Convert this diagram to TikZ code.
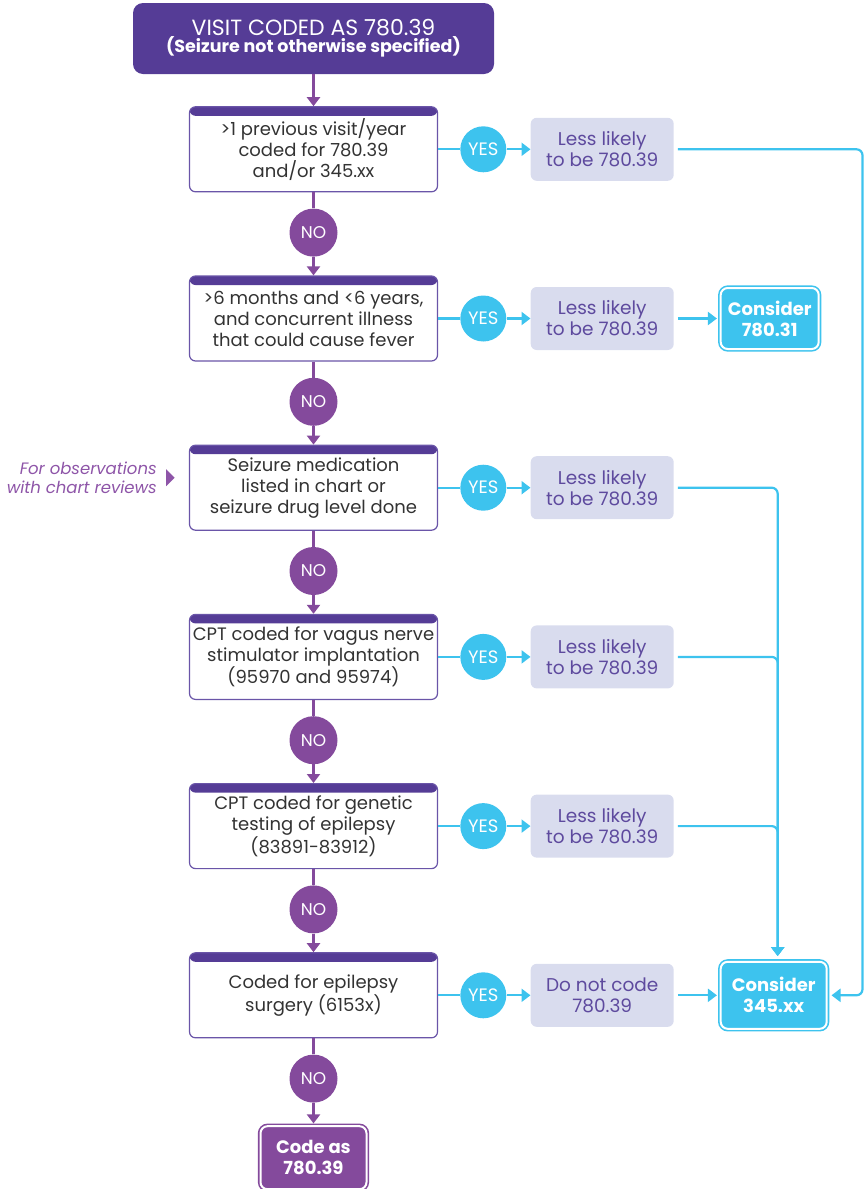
\documentclass[tikz,border=0pt]{standalone}
\usepackage{fontspec}
\setmainfont{Poppins}
\usetikzlibrary{arrows.meta,positioning,shapes.geometric,calc}

\definecolor{headpurple}{HTML}{553C96}
\definecolor{nopurple}{HTML}{844A9C}
\definecolor{qborder}{HTML}{6A55A8}
\definecolor{yescyan}{HTML}{3DC3EE}
\definecolor{resfill}{HTML}{D9DCEE}
\definecolor{restext}{HTML}{5E4A9E}
\definecolor{notepurple}{HTML}{8E55A8}
\definecolor{bodytext}{HTML}{333333}

\begin{document}
\begin{tikzpicture}[
    x=1pt, y=1pt,
    node distance=16pt and 22pt,
    question/.style={rectangle, rounded corners=6pt, draw=qborder, line width=1.2pt, fill=white, align=center, minimum width=248pt, minimum height=85pt, text=bodytext, font=\fontsize{18}{21}\selectfont,
      path picture={\fill[headpurple] (path picture bounding box.north west) rectangle ([yshift=-9pt]path picture bounding box.north east);}},
    result/.style={rectangle, rounded corners=6pt, fill=resfill, align=center, minimum width=143pt, minimum height=63pt, text=restext, font=\fontsize{18.5}{21}\selectfont},
    yesdot/.style={circle, fill=yescyan, text=white, minimum size=46pt, inner sep=0pt, font=\fontsize{18}{18}\selectfont},
    nodot/.style={circle, fill=nopurple, text=white, minimum size=48pt, inner sep=0pt, font=\fontsize{17}{17}\selectfont},
    consider/.style={rectangle, rounded corners=7pt, fill=yescyan, draw=yescyan, double=white, double distance=2pt, line width=1.6pt, align=center, minimum width=98pt, minimum height=61pt, text=white, font=\bfseries\fontsize{18}{21}\selectfont},
    codebox/.style={consider, fill=nopurple, draw=nopurple, minimum width=106pt, minimum height=63pt},
    noline/.style={draw=nopurple, line width=2.2pt},
    yesline/.style={draw=yescyan, line width=2.2pt},
    tip/.style={-{Triangle[width=13pt,length=9pt]}}
]
\useasboundingbox (0,0) rectangle (865,-1189);

\node[rectangle, rounded corners=10pt, fill=headpurple, text=white, align=center, minimum width=361pt, minimum height=71pt] (start) at (313.5,-38.5)
  {{\fontsize{22}{23}\selectfont VISIT CODED AS 780.39}\\{\bfseries\fontsize{17.5}{20}\selectfont (Seizure not otherwise specified)}};

% questions down the middle
\node[question, below=32pt of start] (q1) {>1 previous visit/year\\coded for 780.39\\and/or 345.xx};
\node[question, below=83pt of q1] (q2) {>6 months and <6 years,\\and concurrent illness\\that could cause fever};
\node[question, below=83pt of q2] (q3) {Seizure medication\\listed in chart or\\seizure drug level done};
\node[question, below=83pt of q3] (q4) {CPT coded for vagus nerve\\stimulator implantation\\(95970 and 95974)};
\node[question, below=83pt of q4] (q5) {CPT coded for genetic\\testing of epilepsy\\(83891-83912)};
\node[question, below=83pt of q5] (q6) {Coded for epilepsy\\surgery (6153x)};
\node[codebox, below=87pt of q6] (code) {Code as\\780.39};

\foreach \i in {1,...,6} {
  \node[nodot, below=of q\i] (no\i) {NO};
  \node[yesdot, right=of q\i] (yes\i) {YES};
}

% outcomes on the right
\node[result, right=24pt of yes1] (res1) {Less likely\\to be 780.39};
\node[result, right=24pt of yes2] (res2) {Less likely\\to be 780.39};
\node[result, right=24pt of yes3] (res3) {Less likely\\to be 780.39};
\node[result, right=24pt of yes4] (res4) {Less likely\\to be 780.39};
\node[result, right=24pt of yes5] (res5) {Less likely\\to be 780.39};
\node[result, right=24pt of yes6] (res6) {Do not code\\780.39};
\node[consider, right=46pt of res2] (c31) {Consider\\780.31};
\node[consider, minimum width=106pt, minimum height=67pt, right=46pt of res6] (c345) {Consider\\345.xx};

% side note
\node[isosceles triangle, isosceles triangle apex angle=90, fill=notepurple, inner sep=0pt, minimum height=8.5pt, left=14pt of q3, yshift=10pt] (notetip) {};
\node[left=9pt of notetip, inner sep=0pt, align=right, text=notepurple, font=\itshape\fontsize{16.5}{19}\selectfont] (note) {For observations\\with chart reviews};

\draw[noline, tip] (start) -- (q1);
\foreach \i [count=\j from 2] in {1,...,5} {
  \draw[noline] (q\i) -- (no\i);
  \draw[noline, tip] (no\i) -- (q\j);
}
\draw[noline] (q6) -- (no6);
\draw[noline, tip, shorten >=2pt] (no6) -- (code);

\foreach \i in {1,...,6} {
  \draw[yesline] (q\i) -- (yes\i);
  \draw[yesline, tip] (yes\i) -- (res\i);
}
\draw[yesline, tip, shorten <=4pt, shorten >=3pt] (res2) -- (c31);
\draw[yesline, tip, shorten <=4pt, shorten >=3pt] (res6) -- (c345);
\draw[yesline, tip, rounded corners=6pt, shorten >=4pt] ([xshift=4pt]res1.east) -| ($(c345.east)+(35pt,0)$) -- (c345.east);
\foreach \i in {3,4,5}
  \draw[yesline, tip, rounded corners=6pt, shorten >=5pt] ([xshift=4pt]res\i.east) -| ([xshift=4pt]c345.north);
\end{tikzpicture}
\end{document}
